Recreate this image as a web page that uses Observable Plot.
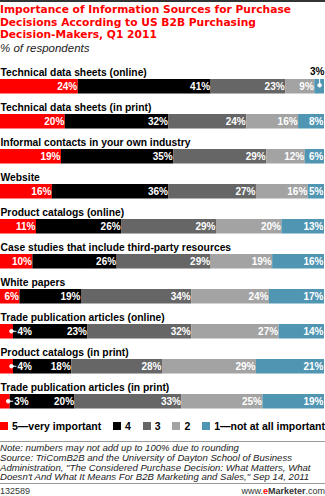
<!DOCTYPE html>
<html>
<head>
<meta charset="utf-8">
<script src="https://cdn.jsdelivr.net/npm/d3@7"></script>
<script src="https://cdn.jsdelivr.net/npm/@observablehq/plot@0.6"></script>
<style>
  html, body { margin: 0; padding: 0; background: #fff; }
  body { width: 325px; height: 496px; overflow: hidden; font-family: "Liberation Sans", Arial, sans-serif; color: #000; }
  #head { border-top: 2px solid #333; height: 58px; box-sizing: border-box; }
  #title { color: #f00; font-family: "DejaVu Sans", Verdana, sans-serif; font-weight: bold; font-size: 10.7px; line-height: 12.5px; padding-top: 2px; white-space: nowrap; }
  #sub { font-style: italic; font-size: 11.5px; line-height: 12.9px; margin-top: 0px; color: #222; }
  #chart svg { display: block; }
  #legend { display: flex; justify-content: space-between; align-items: center; height: 24px; box-sizing: border-box; padding-bottom: 6px; font-weight: bold; font-size: 10.5px; }
  #legend .it { display: flex; align-items: center; }
  #legend .sw { width: 8px; height: 8px; margin-right: 4px; }
  #notes { border-top: 1px solid #999; border-bottom: 1px solid #999; font-style: italic; font-size: 9.6px; line-height: 9.75px; padding: 1px 0 0 0; height: 40px; color: #222; white-space: nowrap; }
  #foot { display: flex; justify-content: space-between; font-size: 9px; line-height: 10px; color: #333; padding-top: 2px; }
  #foot b.e { color: #f00; }
</style>
</head>
<body>
<div id="head">
  <div id="title">Importance of Information Sources for Purchase<br>Decisions According to US B2B Purchasing<br>Decision-Makers, Q1 2011</div>
  <div id="sub">% of respondents</div>
</div>
<div id="chart"></div>
<div id="legend"></div>
<div id="notes">Note: numbers may not add up to 100% due to rounding<br>Source: TriComB2B and the University of Dayton School of Business<br>Administration, "The Considered Purchase Decision: What Matters, What<br>Doesn't And What It Means For B2B Marketing and Sales," Sep 14, 2011</div>
<div id="foot"><span>132589</span><span>www.<b class="e">e</b><b>Marketer</b>.com</span></div>
<script>
const categories = [
  "Technical data sheets (online)",
  "Technical data sheets (in print)",
  "Informal contacts in your own industry",
  "Website",
  "Product catalogs (online)",
  "Case studies that include third-party resources",
  "White papers",
  "Trade publication articles (online)",
  "Product catalogs (in print)",
  "Trade publication articles (in print)"
];
const seriesNames = ["5—very important", "4", "3", "2", "1—not at all important"];
const v5 = [24, 20, 19, 16, 11, 10, 6, 4, 4, 3];
const v4 = [41, 32, 35, 36, 26, 26, 19, 23, 18, 20];
const v3 = [23, 24, 29, 27, 29, 29, 34, 32, 28, 33];
const v2 = [9, 16, 12, 16, 20, 19, 24, 27, 29, 25];
const v1 = [3, 8, 6, 5, 13, 16, 17, 14, 21, 19];
const colors = ["#ff0000", "#000000", "#666666", "#a3a3a3", "#5096b3"];

const series = [v5, v4, v3, v2, v1];
const rows = [];
categories.forEach((cat, i) => {
  const total = series.reduce((s, a) => s + a[i], 0);
  let cum = 0;
  series.forEach((arr, k) => {
    const v = arr[i];
    rows.push({cat, series: seriesNames[k], k, value: v, x1: cum / total, x2: (cum + v) / total, callout: v <= 4});
    cum += v;
  });
});

const bandDy = 3.75; // bar center relative to band center
const tailRight = {draw(ctx, size) { const r = Math.sqrt(size / Math.PI); ctx.moveTo(r, 0); ctx.arc(0, 0, r, 0, 2 * Math.PI); ctx.moveTo(0, 0); ctx.lineTo(5, 0); }};
const tailUp = {draw(ctx, size) { const r = Math.sqrt(size / Math.PI); ctx.moveTo(r, 0); ctx.arc(0, 0, r, 0, 2 * Math.PI); ctx.moveTo(0, 0); ctx.lineTo(0, -7); }};

const inside = rows.filter(d => !d.callout);
const leftCall = rows.filter(d => d.callout && d.k === 0);
const topCall = rows.filter(d => d.callout && d.k === 4);

const chart = Plot.plot({
  width: 325,
  height: 359,
  marginTop: 4,
  marginBottom: 0,
  marginLeft: 0,
  marginRight: 1,
  style: {fontFamily: "'Liberation Sans', Arial, sans-serif", background: "#fff"},
  x: {domain: [0, 1], axis: null},
  y: {domain: categories, axis: null, padding: 0},
  color: {domain: seriesNames, range: colors},
  marks: [
    Plot.barX(rows, {x1: "x1", x2: "x2", y: "cat", fill: "series", insetTop: 14, insetBottom: 6.5}),
    Plot.text(categories, {y: d => d, text: d => d, frameAnchor: "left", textAnchor: "start", lineAnchor: "bottom", dy: -6.75, fontWeight: "bold", fontSize: 10.3, fill: "#000"}),
    Plot.text(inside, {x: "x2", y: "cat", text: d => d.value + "%", textAnchor: "end", dx: -1, dy: bandDy, fill: "#fff", fontWeight: "bold", fontSize: 10}),
    Plot.dot(leftCall, {x: "x2", y: "cat", dx: -2, dy: bandDy - 0.5, symbol: tailRight, r: 1.8, fill: "#fff", stroke: "#fff", strokeWidth: 1}),
    Plot.text(leftCall, {x: "x2", y: "cat", text: d => d.value + "%", textAnchor: "start", dx: 4, dy: bandDy, fill: "#fff", fontWeight: "bold", fontSize: 10}),
    Plot.dot(topCall, {x: d => (d.x1 + d.x2) / 2, y: "cat", dy: bandDy - 1.5, symbol: tailUp, r: 1.8, fill: "#fff", stroke: "#fff", strokeWidth: 1}),
    Plot.text(topCall, {x: "x2", y: "cat", text: d => d.value + "%", textAnchor: "end", lineAnchor: "bottom", dy: -7.75, fill: "#000", fontWeight: "bold", fontSize: 10})
  ]
});
document.getElementById("chart").appendChild(chart);

const legend = document.getElementById("legend");
seriesNames.forEach((name, k) => {
  const it = document.createElement("div");
  it.className = "it";
  const sw = document.createElement("span");
  sw.className = "sw";
  sw.style.background = colors[k];
  const lab = document.createElement("span");
  lab.textContent = name;
  it.appendChild(sw);
  it.appendChild(lab);
  legend.appendChild(it);
});
</script>
</body>
</html>
